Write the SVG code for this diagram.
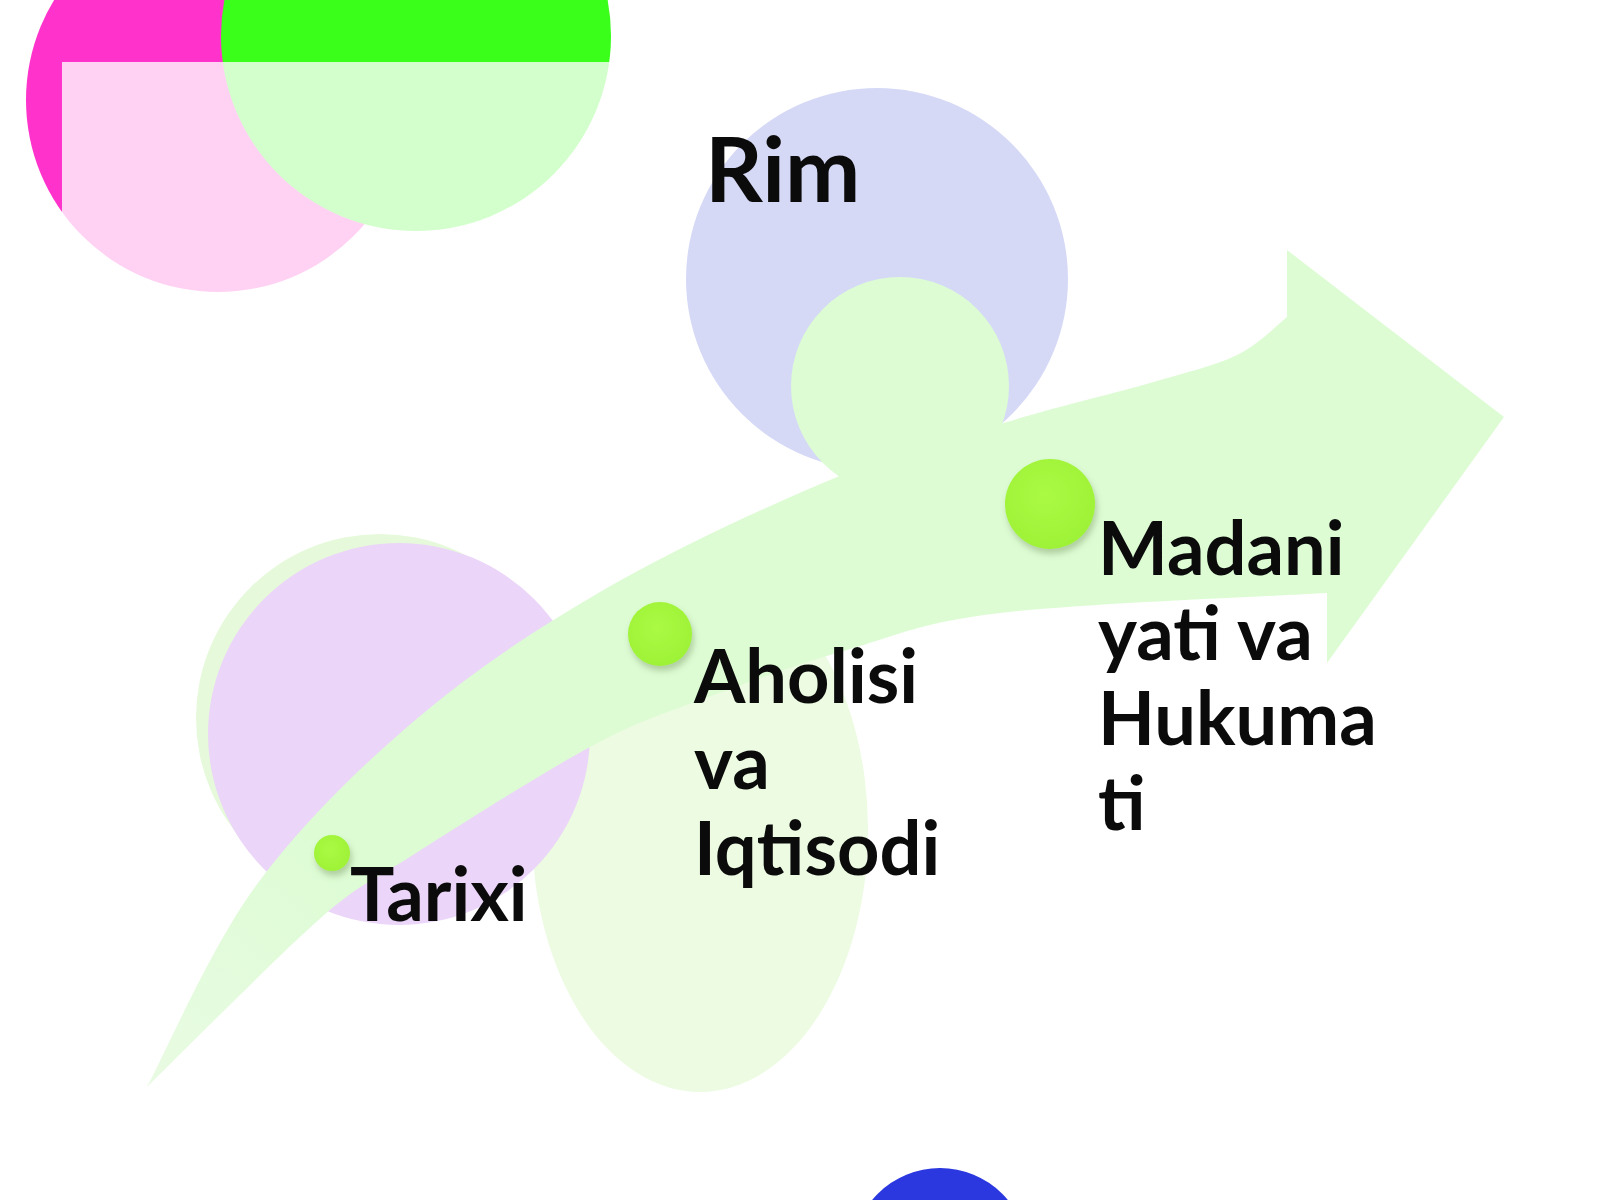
<svg xmlns="http://www.w3.org/2000/svg" width="1600" height="1200" viewBox="0 0 1600 1200">
  <defs>
    <style>
      .lbl { font-family: Lato, "Liberation Sans", "DejaVu Sans", sans-serif; font-weight: 700; fill: #0b0b0b; }
      .big { font-size: 74px; }
      .title { font-size: 90px; }
      .dot { fill: url(#dotGrad); filter: url(#dotShadow); }
      .pale { fill: #ddfcd4; }
    </style>
    <radialGradient id="dotGrad" cx="0.45" cy="0.4" r="0.6">
      <stop offset="0" stop-color="#aafa44"/>
      <stop offset="1" stop-color="#9ef236"/>
    </radialGradient>
    <linearGradient id="arrowGrad" gradientUnits="userSpaceOnUse" x1="147" y1="1087" x2="340" y2="850">
      <stop offset="0" stop-color="#e9fbe3"/>
      <stop offset="1" stop-color="#ddfcd4"/>
    </linearGradient>
    <filter id="dotShadow" x="-40%" y="-40%" width="180%" height="190%">
      <feDropShadow dx="2" dy="5" stdDeviation="3" flood-color="#5a7a3a" flood-opacity="0.35"/>
    </filter>
  </defs>

  <rect x="0" y="0" width="1600" height="1200" fill="#ffffff"/>

  <g id="background-shapes">
    <circle cx="218" cy="100" r="192" fill="#ff33cc"/>
    <circle cx="416" cy="36" r="195" fill="#3aff1a"/>
    <rect x="62" y="62" width="600" height="300" fill="#ffffff" fill-opacity="0.78"/>
    <circle cx="877" cy="279" r="191" fill="#d5d9f6"/>
    <circle cx="380" cy="718" r="184" fill="#e6fadb"/>
    <ellipse cx="700" cy="830" rx="168" ry="262" fill="#ecfbe1"/>
    <circle cx="399" cy="734" r="191" fill="#ebd5f8"/>
  </g>

  <g id="connectors">
    <path id="flow-arrow" fill="url(#arrowGrad)" d="M147,1087
      C165,1053.7 210.7,947.8 255,887
      C299.3,826.2 355.5,771.2 413,722
      C470.5,672.8 530.5,632.3 600,592
      C669.5,551.7 762.2,508.3 830,480
      C897.8,451.7 953.7,438.2 1007,422
      C1060.3,405.8 1111.7,394.2 1150,383
      C1188.3,371.8 1214.2,366 1237,355
      C1259.8,344 1278.7,323.3 1287,317
      L1287,250 L1504,417 L1327,663 L1327,593
      C1272.5,596.3 1080,603.5 1000,613
      C920,622.5 897,635.5 847,650
      C797,664.5 742.8,683.8 700,700
      C657.2,716.2 637.8,721.2 590,747
      C542.2,772.8 457.5,826.8 413,855
      C368.5,883.2 360,884 323,916
      C278.7,954.7 176.3,1058.5 147,1087 Z"/>
    <circle class="pale" cx="900" cy="386" r="109"/>
  </g>

  <g id="title-rim">
    <text class="lbl title" x="705" y="202">Rim</text>
  </g>

  <g id="node-tarixi">
    <circle class="dot" cx="332" cy="853" r="18"/>
    <text class="lbl big" x="350" y="921">Tarixi</text>
  </g>

  <g id="node-aholisi">
    <circle class="dot" cx="660" cy="634" r="32"/>
    <text class="lbl big" x="694" y="703">Aholisi</text>
    <text class="lbl big" x="694" y="789">va</text>
    <text class="lbl big" x="694" y="875">Iqtisodi</text>
  </g>

  <g id="node-madani">
    <circle class="dot" cx="1050" cy="504" r="45"/>
    <text class="lbl big" x="1098" y="575">Madani</text>
    <text class="lbl big" x="1098" y="660">yati va</text>
    <text class="lbl big" x="1098" y="745">Hukuma</text>
    <text class="lbl big" x="1098" y="830">ti</text>
  </g>

  <g id="bottom-shape">
    <circle cx="940" cy="1256" r="88" fill="#2b38e0"/>
  </g>
</svg>
